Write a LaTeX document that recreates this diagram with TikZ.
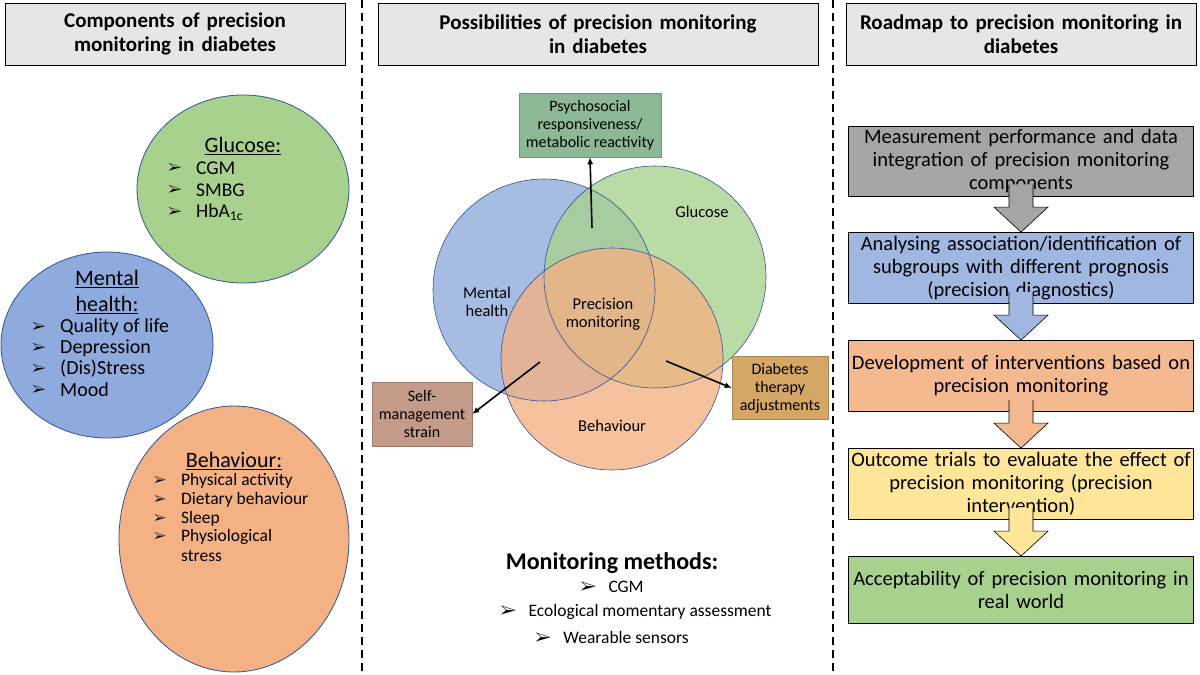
\documentclass[tikz,border=0pt]{standalone}
\usepackage{fontspec}
\setmainfont{Carlito}
\usepackage{pifont}
\usetikzlibrary{arrows.meta,calc}
\definecolor{cgreen}{HTML}{A9D18E}
\definecolor{cblue}{HTML}{8FAADC}
\definecolor{corange}{HTML}{F4B183}
\definecolor{cyellow}{HTML}{FFE699}
\definecolor{cgray}{HTML}{A5A5A5}
\definecolor{cedge}{HTML}{2F5597}
\definecolor{chead}{HTML}{E7E6E6}
\definecolor{cpsy}{HTML}{8CB896}
\definecolor{cself}{HTML}{C49A88}
\definecolor{cdia}{HTML}{D4A764}
\newcommand{\fs}[1]{\fontsize{#1}{1.12\dimexpr#1pt\relax}\selectfont}
\newcommand{\bul}{\ding{226}}
\begin{document}
\begin{tikzpicture}[x=1pt,y=-1pt,
  head/.style={draw=black,fill=chead,line width=0.8pt,minimum height=62pt,text width=330pt,align=center,font=\fs{21}\bfseries,inner sep=2pt},
  comp/.style={draw=cedge,line width=0.8pt},
  venn/.style={fill opacity=0.78},
  lab/.style={font=\fs{16.5},align=center},
  side/.style={align=center,font=\fs{16},inner sep=2pt,line width=0.5pt},
  road/.style={draw=black,line width=0.8pt,minimum width=345pt,text width=340pt,align=center,font=\fs{20.5},inner sep=1pt},
  it/.style={anchor=west,inner sep=0pt},
  arr/.style={-{Latex[length=7pt,width=6pt]},line width=1.6pt}]
\useasboundingbox (0,0) rectangle (1200,675);
\fill[white] (0,0) rectangle (1200,675);
% dividers
\draw[line width=1.6pt,dash pattern=on 8pt off 5pt] (362,0) -- (362,675);
\draw[line width=1.6pt,dash pattern=on 8pt off 5pt] (833,0) -- (833,675);
% headers
\node[head,minimum width=340pt] (h1) at (175,34) {Components of precision\\monitoring in diabetes};
\node[head,minimum width=440pt,text width=420pt] (h2) at (598,34) {Possibilities of precision monitoring\\in diabetes};
\node[head,minimum width=350pt,text width=340pt] (h3) at (1021,34) {Roadmap to precision monitoring in\\diabetes};
% left circles
\fill[cgreen,comp] (243,189) ellipse (106 and 94);
\fill[cblue,comp] (107,345) ellipse (106 and 93);
\fill[corange,comp] (234,539) ellipse (115 and 133);
\node[font=\fs{22}] (gh) at (243,146) {\underline{Glucose:}};
\foreach \t/\y [count=\i] in {CGM/168,SMBG/190,{HbA\textsubscript{1c}}/212}{
  \node[it,font=\fs{15}] (gb\i) at (168,\y) {\bul};
  \node[it,font=\fs{19.5}] (gt\i) at (196,\y) {\t};}
\node[font=\fs{22},align=center] (mh) at (107,292) {\underline{Mental}\\[2pt]\underline{health:}};
\foreach \t/\y [count=\i] in {Quality of life/327,Depression/348,(Dis)Stress/369,Mood/390}{
  \node[it,font=\fs{15}] (mb\i) at (32,\y) {\bul};
  \node[it,font=\fs{20}] (mt\i) at (60,\y) {\t};}
\node[font=\fs{22}] (bh) at (234,461) {\underline{Behaviour:}};
\foreach \t/\y [count=\i] in {Physical activity/481,Dietary behaviour/500,Sleep/519,Physiological/537}{
  \node[it,font=\fs{13}] (bb\i) at (154,\y) {\bul};
  \node[it,font=\fs{17.5}] (bt\i) at (181,\y) {\t};}
\node[it,font=\fs{17.5}] (bt5) at (181,556) {stress};
% Venn
\fill[cblue,venn] (544,290) circle (111);
\fill[cgreen,venn] (655,277) circle (111);
\fill[corange,venn] (612,359) circle (111);
\draw[cedge,line width=0.6pt] (544,290) circle (111) (655,277) circle (111) (612,359) circle (111);
\node[lab] (lg) at (702,212) {Glucose};
\node[lab] (lm) at (487,302) {Mental\\health};
\node[lab] (lp) at (603,314) {Precision\\monitoring};
\node[lab] (lb) at (612,426) {Behaviour};
\node[side,fill=cpsy,draw=cpsy!80!black,minimum width=142pt,minimum height=64pt] (ps) at (590,125) {Psychosocial\\responsiveness/\\metabolic reactivity};
\node[side,fill=cself,draw=cself!80!black,minimum width=100pt,minimum height=64pt] (sm) at (422,414) {Self-\\management\\strain};
\node[side,fill=cdia,draw=cdia!80!black,minimum width=96pt,minimum height=63pt] (dt) at (780,388) {Diabetes\\therapy\\adjustments};
\coordinate (a1) at (592,228);
\coordinate (a2) at (540,362);
\coordinate (a3) at (666,361);
\draw[arr] (a1) -- (ps.south);
\draw[arr] (a2) -- (sm.east);
\draw[arr] (a3) -- (dt.west);
% monitoring methods
\node[font=\fs{24}\bfseries] (mm) at (612,563) {Monitoring methods:};
\node[font=\fs{17.5}] (m1) at (612,587) {\bul\hspace{12pt}CGM};
\node[font=\fs{17.5}] (m2) at (636,612) {\bul\hspace{12pt}Ecological momentary assessment};
\node[font=\fs{17.5}] (m3) at (612,637) {\bul\hspace{12pt}Wearable sensors};
% roadmap
\node[road,fill=cgray,minimum height=70pt] (r1) at (1021,161) {Measurement performance and data\\integration of precision monitoring\\components};
\node[road,fill=cblue!85,minimum height=71pt] (r2) at (1021,268) {Analysing association/identification of\\subgroups with different prognosis\\(precision diagnostics)};
\node[road,fill=corange!90,minimum height=71pt] (r3) at (1021,376) {Development of interventions based on\\precision monitoring};
\node[road,fill=cyellow,minimum height=71pt] (r4) at (1021,484) {Outcome trials to evaluate the effect of\\precision monitoring (precision\\intervention)};
\node[road,fill=cgreen,minimum height=67pt] (r5) at (1021,590) {Acceptability of precision monitoring in\\real world};
\foreach \a/\b/\c in {r1/r2/cgray,r2/r3/cblue!85,r3/r4/corange!90,r4/r5/cyellow}{
  \draw[fill=\c,line width=0.6pt] ($(\a.south)+(-12,-12)$) -- ($(\b.north)+(-12,-25)$) -- ($(\b.north)+(-27,-25)$) -- (\b.north) -- ($(\b.north)+(27,-25)$) -- ($(\b.north)+(12,-25)$) -- ($(\a.south)+(12,-12)$);
}
\end{tikzpicture}
\end{document}
